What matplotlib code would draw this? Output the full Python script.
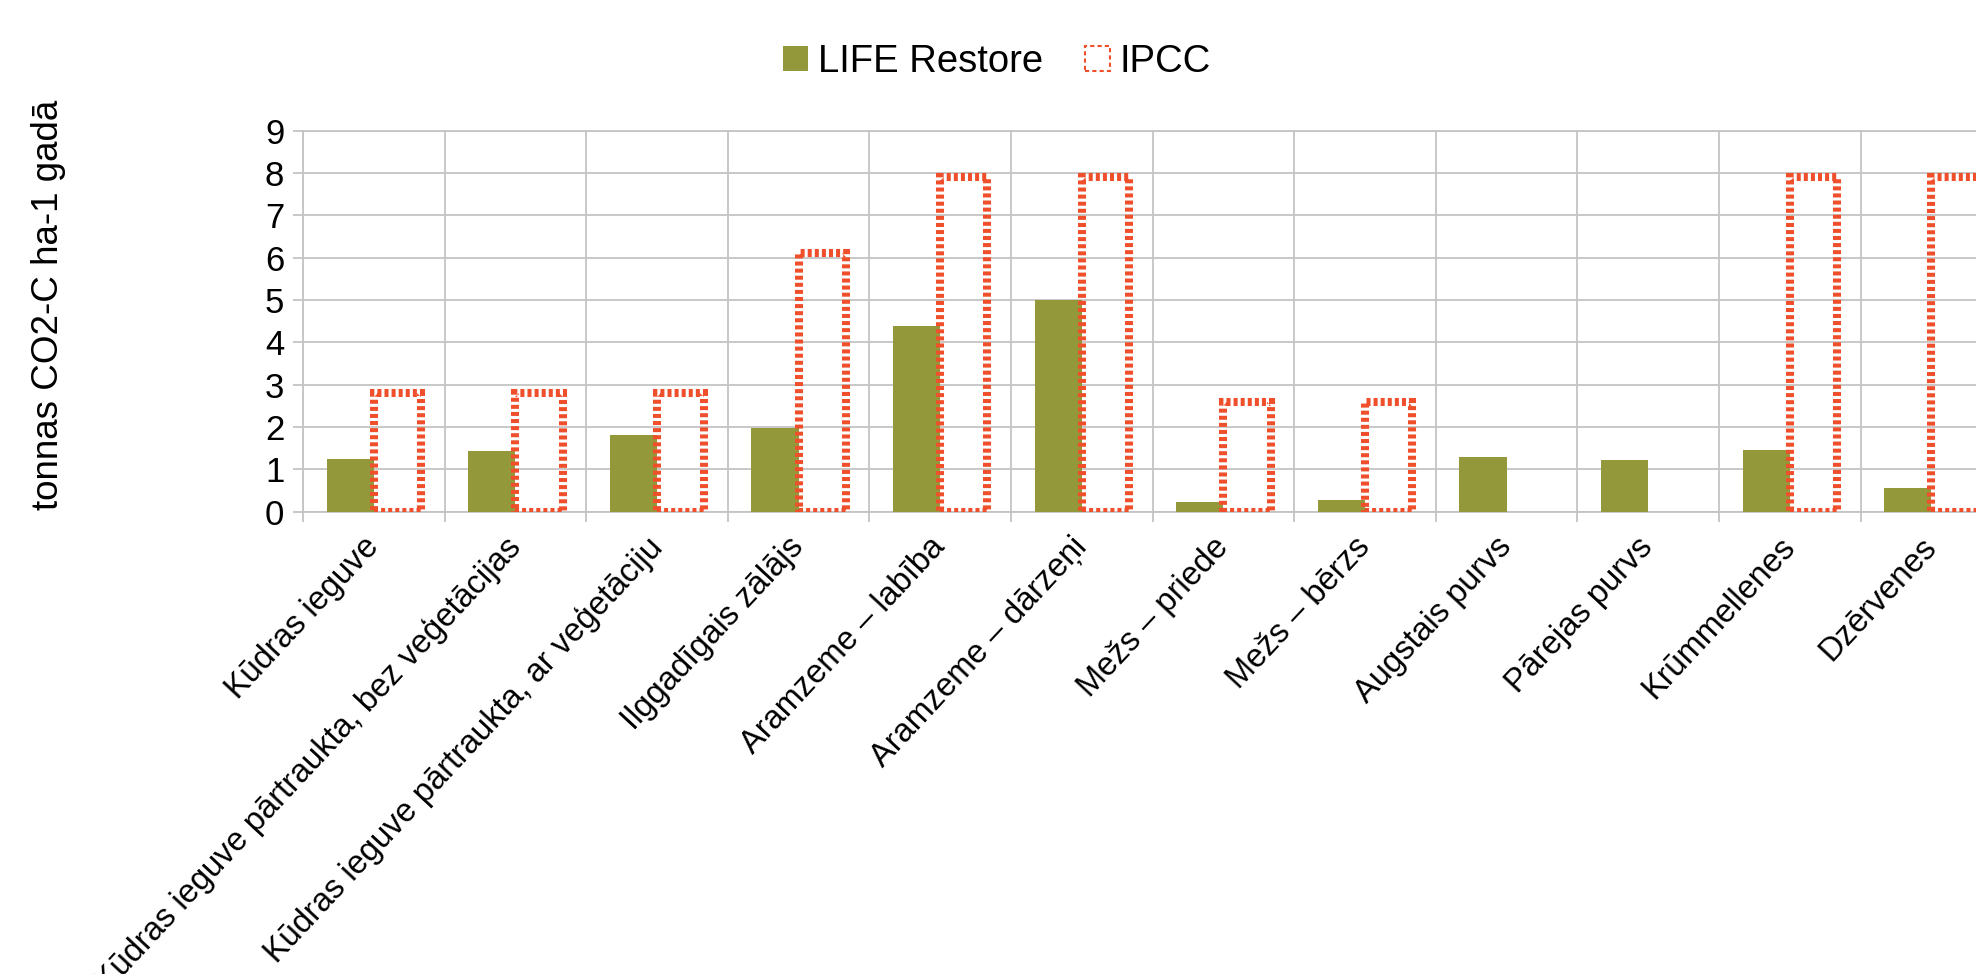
import numpy as np
import matplotlib
matplotlib.use("Agg")
import matplotlib.pyplot as plt
from matplotlib.patches import Patch

plt.rcParams['font.family'] = ['Liberation Sans', 'DejaVu Sans']

categories = [
    "Kūdras ieguve",
    "Kūdras ieguve pārtraukta, bez veģetācijas",
    "Kūdras ieguve pārtraukta, ar veģetāciju",
    "Ilggadīgais zālājs",
    "Aramzeme – labība",
    "Aramzeme – dārzeņi",
    "Mežs – priede",
    "Mežs – bērzs",
    "Augstais purvs",
    "Pārejas purvs",
    "Krūmmellenes",
    "Dzērvenes",
]
life_restore = [1.24, 1.43, 1.81, 1.97, 4.39, 5.0, 0.23, 0.28, 1.29, 1.22, 1.46, 0.55]
ipcc = [2.8, 2.8, 2.8, 6.1, 7.9, 7.9, 2.6, 2.6, np.nan, np.nan, 7.9, 7.9]
y_ticks = list(range(0, 10))

series_labels = ["LIFE Restore", "IPCC"]
ylabel_text = "tonnas CO2-C ha-1 gadā"

GREEN = "#93983b"
RED = "#ef4f2a"
GRID = "#c4c4c4"

W, H, DPI = 1976, 974, 100
fig = plt.figure(figsize=(W / DPI, H / DPI), dpi=DPI)

# plot area: left edge at x=303 px, value 0 at y=511.7 px, value 9 at y=130.7 px
cat_w = 141.6
left = 303 / W
bottom = 1 - 511.7 / H
top = 1 - 130.7 / H
ax = fig.add_axes([left, bottom, len(categories) * cat_w / W, top - bottom])

x = np.arange(len(categories))
bw = 1 / 3

ax.bar(x - bw / 2, life_restore, width=bw, color=GREEN, zorder=3)
ax.bar(x + bw / 2, ipcc, width=bw, facecolor="none", edgecolor=RED,
       linewidth=5.8, linestyle=(0, (0.5, 0.38)), zorder=3)

ax.set_xlim(-0.5, len(categories) - 0.5)
ax.set_ylim(0, 9)
ax.set_yticks(y_ticks)
ax.set_yticklabels([str(v) for v in y_ticks], fontsize=25)

# category labels on centres, grid on category boundaries
ax.set_xticks(x)
ax.set_xticklabels(categories, rotation=47, ha="right", va="center",
                   rotation_mode="anchor", fontsize=23.5)
ax.set_xticks(np.arange(-0.5, len(categories)), minor=True)
ax.tick_params(axis="x", which="major", length=0, pad=22)
ax.tick_params(axis="x", which="minor", length=7.5, width=1.3, color=GRID)
ax.tick_params(axis="y", length=7.5, width=1.3, color=GRID, pad=6)

ax.grid(True, axis="y", which="major", color=GRID, linewidth=1.3, zorder=0)
ax.grid(True, axis="x", which="minor", color=GRID, linewidth=1.3, zorder=0)
ax.set_axisbelow(True)
for s in ax.spines.values():
    s.set_color(GRID)
    s.set_linewidth(1.3)

fig.text(48 / W, 1 - 305 / H, ylabel_text, rotation=90, ha="center",
         va="center", fontsize=26.5)

handles = [
    Patch(facecolor=GREEN, edgecolor="none"),
    Patch(facecolor="none", edgecolor=RED, linewidth=1.5, linestyle=(0, (2, 1.5))),
]
fig.legend(handles, series_labels, loc="center", ncol=2,
           bbox_to_anchor=(997 / W, 1 - 62 / H), frameon=False, fontsize=27.5,
           handlelength=0.65, handleheight=0.65, handletextpad=0.25,
           columnspacing=1.1, borderpad=0)

fig.savefig("out.png", dpi=DPI)
